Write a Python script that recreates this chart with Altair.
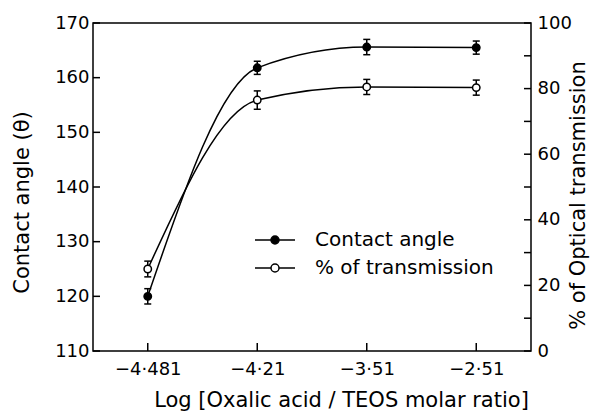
import altair as alt
import pandas as pd

x_labels = ["\u22124\u00b7481", "\u22124\u00b721", "\u22123\u00b751", "\u22122\u00b751"]
contact = [120.0, 161.8, 165.6, 165.5]
contact_err = [1.4, 1.2, 1.4, 1.2]
trans = [25.0, 76.5, 80.5, 80.3]
trans_err = [2.4, 2.8, 2.3, 2.3]
series_names = ["Contact angle", "% of transmission"]
left_ticks = [110, 120, 130, 140, 150, 160, 170]
right_labels = [0, 20, 40, 60, 80, 100]
right_ticks = [0, 10, 20, 30, 40, 50, 60, 70, 80, 90, 100]

W, H = 438, 328
FONT = "DejaVu Sans"

df_c = pd.DataFrame({
    "x": x_labels, "y": contact,
    "lo": [v - e for v, e in zip(contact, contact_err)],
    "hi": [v + e for v, e in zip(contact, contact_err)],
    "series": series_names[0],
})
df_t = pd.DataFrame({
    "x": x_labels, "y": trans,
    "lo": [v - e for v, e in zip(trans, trans_err)],
    "hi": [v + e for v, e in zip(trans, trans_err)],
    "series": series_names[1],
})
df_lt = pd.DataFrame({"v": left_ticks})
df_rt = pd.DataFrame({"v": right_ticks})
df_bt = pd.DataFrame({"x": x_labels})

xscale = alt.Scale(type="point", padding=0.5)
lscale = alt.Scale(domain=[110, 170], nice=False, zero=False)
rscale = alt.Scale(domain=[0, 100], nice=False, zero=False)

x_axis = alt.Axis(title="Log [Oxalic acid / TEOS molar ratio]", ticks=False, domain=False,
                  labelAngle=0, labelPadding=9, labelFontSize=18,
                  titleFontSize=21, titleFontWeight="normal", titleX=248, titleY=49,
                  titleBaseline="middle", titleAlign="center", titleAnchor="start")
l_axis = alt.Axis(title="Contact  angle (\u03b8)", values=left_ticks, ticks=False, domain=False,
                  grid=False, labelPadding=4, labelFontSize=18, titleFontSize=21,
                  titleFontWeight="normal", titleX=-71, titleY=179, titleAngle=270,
                  titleBaseline="middle", titleAlign="center")
r_axis = alt.Axis(title="% of Optical transmission", orient="right", values=right_labels,
                  ticks=False, domain=False, grid=False, labelPadding=6, labelFontSize=18,
                  titleFontSize=21, titleFontWeight="normal", titleX=47, titleY=172,
                  titleAngle=270, titleBaseline="middle", titleAlign="center")

X = alt.X("x:N", sort=x_labels, scale=xscale, axis=x_axis, title=x_axis.title)

legend_path = "M-2,0H-0.4M0.4,0H2M0.4,0A0.4,0.4,0,1,1,-0.4,0A0.4,0.4,0,1,1,0.4,0Z"
fill_enc = alt.Fill("series:N", scale=alt.Scale(domain=series_names, range=["black", "white"]),
                    legend=alt.Legend(title=None, orient="none", legendX=171, legendY=206,
                                      symbolType=legend_path, symbolSize=400,
                                      symbolStrokeColor="black", symbolStrokeWidth=1.5,
                                      symbolOpacity=1, labelOffset=29, labelFontSize=20,
                                      labelFont=FONT, rowPadding=7, padding=0,
                                      labelLimit=0, labelColor="black"))


def group(df, scale, axis, tick_df, tick_x, tick_x2, with_bottom):
    def Y(field):
        return alt.Y(field, scale=scale, axis=axis, title=axis.title)
    line = alt.Chart(df).mark_line(interpolate="monotone", color="black", strokeWidth=1.5).encode(
        x=X, y=Y("y:Q"))
    rules = alt.Chart(df).mark_rule(color="black", strokeWidth=1.5).encode(
        x=X, y=Y("lo:Q"), y2="hi:Q")
    cap_lo = alt.Chart(df).mark_tick(color="black", thickness=1.5, size=7, opacity=1).encode(
        x=X, y=Y("lo:Q"))
    cap_hi = alt.Chart(df).mark_tick(color="black", thickness=1.5, size=7, opacity=1).encode(
        x=X, y=Y("hi:Q"))
    pts = alt.Chart(df).mark_circle(size=55, stroke="black", strokeWidth=1.5, opacity=1).encode(
        x=X, y=Y("y:Q"), fill=fill_enc)
    ticks = alt.Chart(tick_df).mark_rule(color="black", strokeWidth=1.5).encode(
        y=Y("v:Q"), x=alt.value(tick_x), x2=alt.value(tick_x2))
    layers = [line, rules, cap_lo, cap_hi, ticks, pts]
    if with_bottom:
        bt = alt.Chart(df_bt).mark_rule(color="black", strokeWidth=1.5).encode(
            x=X, y=alt.value(H), y2=alt.value(H - 8))
        layers.insert(4, bt)
    return alt.layer(*layers)


left = group(df_c, lscale, l_axis, df_lt, 0, 7, True)
right = group(df_t, rscale, r_axis, df_rt, W, W - 7, False)

chart = alt.layer(left, right).resolve_scale(y="independent").properties(
    width=W, height=H,
    autosize=alt.AutoSizeParams(type="none"),
    padding={"left": 93, "top": 23, "right": 60, "bottom": 65},
    background="white",
).configure_view(stroke="black", strokeWidth=1.5).configure_axis(
    labelFont=FONT, titleFont=FONT, labelColor="black", titleColor="black"
).configure_text(font=FONT)

chart.save("out.html", embed_options={"renderer": "svg", "actions": False})
